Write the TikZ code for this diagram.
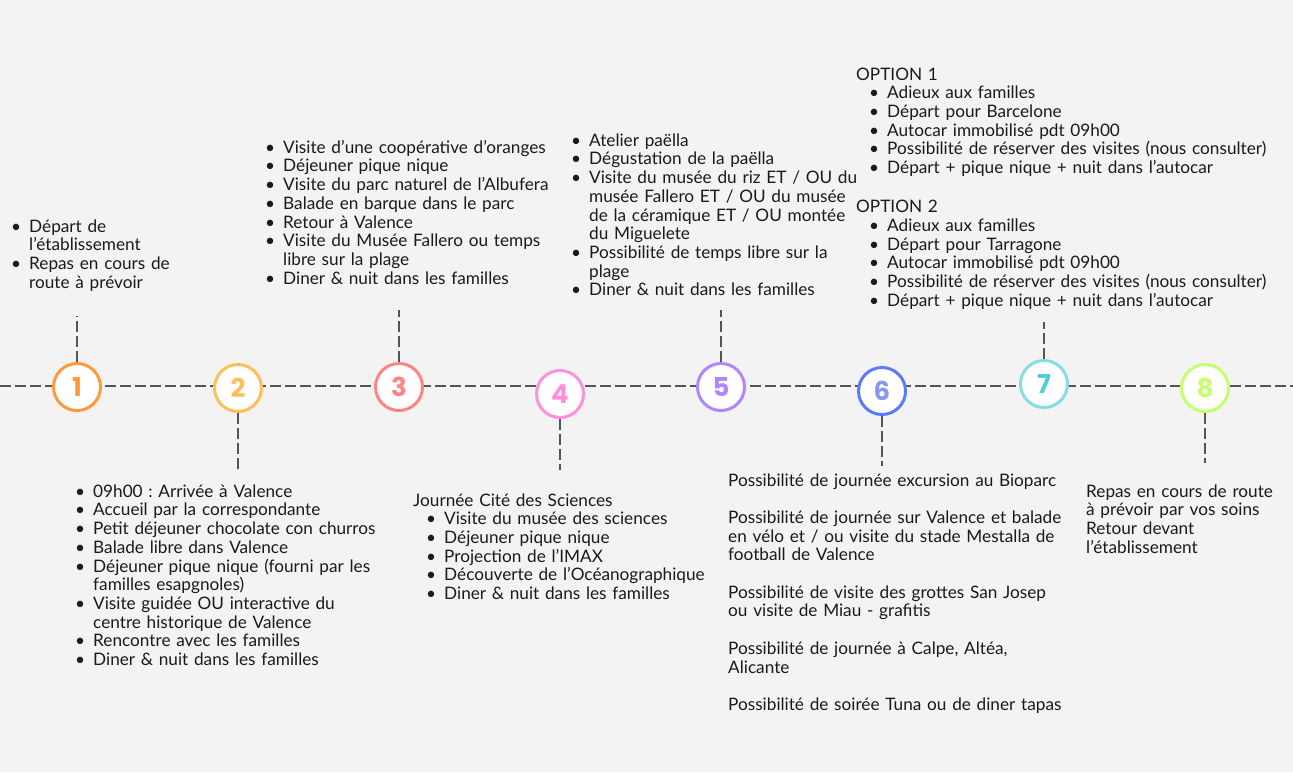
\documentclass[tikz,border=0pt]{standalone}
\usepackage{fontspec}
\setmainfont{Lato}
\newfontfamily\numfont{Poppins}
\usepackage{enumitem}
\setlist[itemize]{label=\textbullet, nosep, leftmargin=12pt, labelsep=8pt}
\usetikzlibrary{positioning}
\frenchspacing
\definecolor{bgcol}{HTML}{F3F3F3}
\definecolor{txtcol}{HTML}{1A1A1A}
\definecolor{dashcol}{HTML}{555555}
\definecolor{ca}{HTML}{FF9A3C}
\definecolor{cb}{HTML}{FFBE5C}
\definecolor{cc}{HTML}{FF8585}
\definecolor{cd}{HTML}{FF90DA}
\definecolor{ce}{HTML}{B185FF}
\definecolor{cf}{HTML}{5B7BFF}
\definecolor{cfn}{HTML}{8A97F0}
\definecolor{cg}{HTML}{86DCE0}
\definecolor{cgn}{HTML}{4ECFD5}
\definecolor{ch}{HTML}{C5FF6E}

\begin{document}
\begin{tikzpicture}[
    x=1pt, y=-1pt,
    node distance=40pt,
    day/.style={circle, fill=white, line width=3pt, minimum size=47pt, inner sep=0pt, font=\numfont\bfseries\fontsize{26}{26}\selectfont},
    txt/.style={anchor=base west, inner sep=0pt, text width=#1, align=left, text=txtcol, font=\fontsize{17.2}{18.7}\selectfont},
    txt/.default=480pt,
    tline/.style={draw=dashcol, line width=2pt, dash pattern=on 11pt off 4pt},
    stub/.style={draw=dashcol, line width=2pt, dash pattern=on 11pt off 4pt}
]
    \useasboundingbox (0,0) rectangle (1293,772);
    \fill [bgcol] (0,0) rectangle (1293,772);

    \coordinate (tl0) at (0,386);
    \coordinate (tl1) at (1293,386);
    \draw [tline] (tl0) -- (tl1);

    \node [day, draw=ca, text=ca] (d1) at (77,387) {1};
    \node [day, draw=cb, text=cb] (d2) at (238,388) {2};
    \node [day, draw=cc, text=cc] (d3) at (399,387) {3};
    \node [day, draw=cd, text=cd] (d4) at (560,394) {4};
    \node [day, draw=ce, text=ce] (d5) at (721,387) {5};
    \node [day, draw=cf, text=cfn] (d6) at (882,391) {6};
    \node [day, draw=cg, text=cgn] (d7) at (1044,384) {7};
    \node [day, draw=ch, text=ch] (d8) at (1205,388) {8};

    \coordinate [above=46pt of d1] (s1);
    \coordinate [below=57pt of d2] (s2);
    \coordinate [above=52pt of d3] (s3);
    \coordinate [below=51pt of d4] (s4);
    \coordinate [above=52pt of d5] (s5);
    \coordinate [below=50pt of d6] (s6);
    \coordinate [above=37pt of d7] (s7);
    \coordinate [below=50pt of d8] (s8);
    \foreach \i in {1,...,8}
        \draw [stub] (d\i) -- (s\i);

    \node [txt] (t1) at (17,213.5) {\begin{itemize}
        \item Départ de\newline l’établissement
        \item Repas en cours de\newline route à prévoir
    \end{itemize}};

    \node [txt] (t3) at (271,134.5) {\begin{itemize}
        \item Visite d’une coopérative d’oranges
        \item Déjeuner pique nique
        \item Visite du parc naturel de l’Albufera
        \item Balade en barque dans le parc
        \item Retour à Valence
        \item Visite du Musée Fallero ou temps\newline libre sur la plage
        \item Diner \& nuit dans les familles
    \end{itemize}};

    \node [txt] (t5) at (577,127.5) {\begin{itemize}
        \item Atelier paëlla
        \item Dégustation de la paëlla
        \item Visite du musée du riz ET / OU du\newline musée Fallero ET / OU du musée\newline de la céramique ET / OU montée\newline du Miguelete
        \item Possibilité de temps libre sur la\newline plage
        \item Diner \& nuit dans les familles
    \end{itemize}};

    \node [txt] (t7) at (856,80) {OPTION 1
    \begin{itemize}[leftmargin=31pt]
        \item Adieux aux familles
        \item Départ pour Barcelone
        \item Autocar immobilisé pdt 09h00
        \item Possibilité de réserver des visites (nous consulter)
        \item Départ + pique nique + nuit dans l’autocar
    \end{itemize}
    \vspace{20.5pt}
    OPTION 2
    \begin{itemize}[leftmargin=31pt]
        \item Adieux aux familles
        \item Départ pour Tarragone
        \item Autocar immobilisé pdt 09h00
        \item Possibilité de réserver des visites (nous consulter)
        \item Départ + pique nique + nuit dans l’autocar
    \end{itemize}};

    \node [txt] (t2) at (81,478.5) {\begin{itemize}
        \item 09h00 : Arrivée à Valence
        \item Accueil par la correspondante
        \item Petit déjeuner chocolate con churros
        \item Balade libre dans Valence
        \item Déjeuner pique nique (fourni par les\newline familles esapgnoles)
        \item Visite guidée OU interactive du\newline centre historique de Valence
        \item Rencontre avec les familles
        \item Diner \& nuit dans les familles
    \end{itemize}};

    \node [txt] (t4) at (413,506) {Journée Cité des Sciences
    \begin{itemize}[leftmargin=31pt]
        \item Visite du musée des sciences
        \item Déjeuner pique nique
        \item Projection de l’IMAX
        \item Découverte de l’Océanographique
        \item Diner \& nuit dans les familles
    \end{itemize}};

    \node [txt] (t6) at (728,486) {Possibilité de journée excursion au Bioparc\\[18.7pt]
        Possibilité de journée sur Valence et balade\\en vélo et / ou visite du stade Mestalla de\\football de Valence\\[18.7pt]
        Possibilité de visite des grottes San Josep\\ou visite de Miau - grafitis\\[18.7pt]
        Possibilité de journée à Calpe, Altéa,\\Alicante\\[18.7pt]
        Possibilité de soirée Tuna ou de diner tapas};

    \node [txt] (t8) at (1086,497) {Repas en cours de route\\à prévoir par vos soins\\Retour devant\\l’établissement};
\end{tikzpicture}
\end{document}
